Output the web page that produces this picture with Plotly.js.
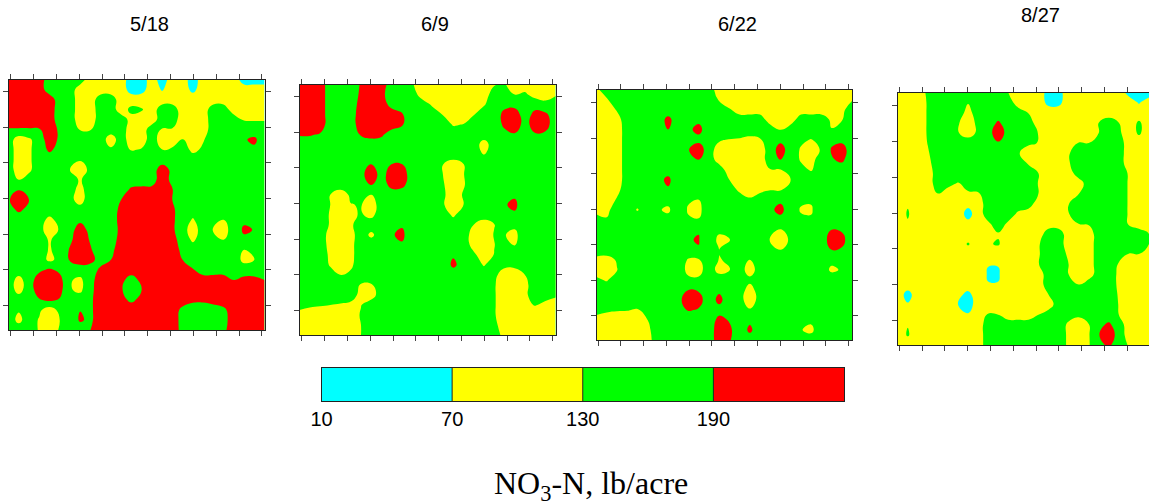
<!DOCTYPE html>
<html><head><meta charset="utf-8">
<script src="https://cdn.plot.ly/plotly-3.0.1.min.js"></script>
<style>html,body{margin:0;padding:0;background:#fff}#c{width:1149px;height:502px}</style></head>
<body><div id="c"></div>
<script>
const dates = ["5/18","6/9","6/22","8/27"];
const legendEdges = [10,70,130,190,250];
const legendValues = [40,100,160,220];
const legendTicks = [10,70,130,190];
const legendTitle = "NO<sub>3</sub>-N, lb/acre";

const no3_0518 = [
[220,220,220,220,160,160,160,160,100,100,100,100,40,40,100,40,100,100,40,100,100,100,100,40,40,40],
[220,220,220,220,160,160,160,100,100,100,100,100,45,50,100,65,100,100,55,100,100,100,100,100,100,100],
[220,220,220,220,220,160,160,100,100,160,160,100,100,100,100,100,100,100,100,100,100,100,100,100,100,100],
[220,220,220,220,220,160,160,100,100,160,160,100,145,135,100,160,160,100,100,100,160,160,100,100,100,100],
[220,220,220,220,220,160,160,100,100,160,160,160,110,100,100,160,160,100,100,100,160,160,160,125,125,125],
[185,185,185,185,220,180,160,128,128,160,160,160,100,100,160,125,125,100,100,100,160,160,160,160,160,160],
[160,100,120,160,220,180,160,160,160,160,100,160,100,100,160,100,100,135,100,125,160,160,160,185,200,160],
[160,100,120,160,200,170,160,160,160,160,140,160,125,135,160,128,140,160,115,140,160,160,160,175,180,160],
[160,100,120,160,160,160,160,135,160,160,160,160,160,160,160,160,160,160,160,160,160,160,160,160,160,160],
[160,100,120,160,160,160,130,100,145,160,160,160,160,160,160,220,175,160,160,160,160,160,160,160,160,160],
[160,130,150,160,160,160,150,125,155,160,160,160,160,160,165,220,175,160,160,160,160,160,160,160,160,160],
[160,188,165,160,160,160,155,110,165,160,160,160,200,205,205,220,192,160,160,160,160,160,160,160,160,160],
[185,220,190,160,160,160,150,100,175,160,160,190,220,220,220,220,190,160,160,160,160,160,160,160,160,160],
[170,200,175,160,160,160,160,160,160,160,160,205,220,220,220,220,200,160,160,160,160,160,160,160,160,160],
[160,160,160,155,115,150,160,175,160,160,160,210,220,220,220,220,200,160,125,160,150,130,160,180,170,160],
[160,160,160,150,100,135,165,220,170,160,160,205,220,220,220,220,200,155,100,160,128,105,160,198,188,160],
[160,160,160,155,125,150,180,220,185,160,165,210,220,220,220,220,210,165,120,160,150,130,160,180,170,160],
[160,160,160,160,125,150,195,220,195,160,175,220,220,220,220,220,220,175,160,160,160,160,160,130,150,160],
[160,160,160,160,118,145,195,220,205,170,190,220,220,220,220,220,220,190,160,160,160,160,160,115,128,160],
[160,160,160,178,200,178,160,160,165,200,220,220,220,220,220,220,220,220,195,160,160,160,160,160,160,160],
[160,110,160,220,220,210,135,118,170,220,220,205,165,205,220,220,220,220,220,220,220,220,190,205,205,190],
[160,110,160,220,220,210,135,118,175,220,220,195,160,190,220,220,220,220,220,220,220,220,220,220,220,220],
[160,160,160,185,200,185,160,160,180,220,220,205,180,205,220,220,220,220,200,200,210,220,220,220,220,220],
[160,135,160,140,100,145,160,189,180,220,220,220,220,220,220,220,220,175,165,160,165,178,220,220,220,220],
[160,115,160,125,100,130,160,196,180,220,220,220,220,220,220,220,220,170,160,160,160,170,220,220,220,220],
[160,160,160,125,100,135,160,165,190,220,220,220,220,220,220,220,220,172,160,160,160,178,220,220,220,220]
];
const no3_0609 = [
[220,220,220,160,160,160,195,220,220,160,160,135,100,100,100,100,100,100,100,125,135,100,100,100,100,100],
[220,220,220,160,160,160,200,220,205,160,160,160,100,100,100,100,100,100,100,160,160,130,140,105,100,125],
[220,220,220,160,160,160,210,220,220,170,160,160,160,120,100,100,100,100,125,160,175,175,160,170,150,160],
[220,220,220,160,160,160,220,220,220,220,195,160,160,160,128,100,100,128,160,160,205,215,165,205,200,160],
[220,220,220,160,160,160,220,220,220,220,195,160,160,160,160,125,132,160,160,160,200,220,170,215,210,160],
[195,195,185,160,160,160,195,210,200,160,160,160,160,160,160,160,160,160,160,160,175,185,160,185,180,160],
[160,160,160,160,160,160,160,160,160,160,160,160,160,160,160,160,160,160,105,160,160,160,160,160,160,160],
[160,160,160,160,160,160,160,160,160,160,160,160,160,160,160,160,160,160,130,160,160,160,160,160,160,160],
[160,160,160,160,160,160,160,193,160,192,192,160,160,160,130,100,128,160,160,160,160,160,160,160,160,160],
[160,160,160,160,160,160,175,220,170,215,215,165,160,160,130,100,128,160,160,160,160,160,160,160,160,160],
[160,160,160,160,160,160,160,192,160,210,205,160,160,160,135,100,125,160,160,160,160,160,160,160,160,160],
[160,160,160,130,100,140,160,130,160,160,160,160,160,160,140,100,135,160,160,160,160,183,160,160,160,160],
[160,160,160,130,100,128,133,100,160,160,160,160,160,160,135,100,130,160,160,160,186,200,160,160,160,160],
[160,160,160,125,100,120,135,115,160,160,160,160,160,160,160,120,160,160,160,160,160,183,160,160,160,160],
[160,160,160,125,100,120,160,160,160,160,185,160,160,160,160,160,160,130,100,128,160,140,160,160,160,160],
[160,160,160,110,100,110,160,118,160,186,200,160,160,160,160,160,160,105,100,133,132,118,160,160,160,160],
[160,160,160,112,100,115,160,160,160,160,185,160,160,160,160,160,160,110,100,128,160,128,160,160,160,160],
[160,160,160,120,100,115,160,160,160,160,160,160,160,160,160,185,160,140,100,132,160,160,160,160,160,160],
[160,160,160,125,100,120,160,160,160,160,160,160,160,160,160,200,170,160,125,160,145,145,160,160,160,160],
[160,160,160,150,128,140,160,160,160,160,160,160,160,160,160,165,160,160,160,145,100,100,130,160,160,160],
[160,160,160,160,160,160,125,125,160,160,160,160,160,160,160,160,160,160,160,135,100,100,115,160,160,160],
[160,160,160,160,160,160,110,105,160,160,160,160,160,160,160,160,160,160,160,135,100,100,118,160,160,140],
[160,140,135,130,125,115,128,160,160,160,160,160,160,160,160,160,160,160,160,135,100,100,100,135,110,100],
[100,100,100,100,100,100,135,160,160,160,160,160,160,160,160,160,160,160,160,135,100,100,100,100,100,100],
[100,100,100,100,100,100,130,160,160,160,160,160,160,160,160,160,160,160,160,145,100,100,100,100,100,100],
[100,100,100,100,100,100,130,160,160,160,160,160,160,160,160,160,160,160,160,160,110,100,100,100,100,100]
];
const no3_0622 = [
[120,160,160,160,160,160,160,160,160,160,160,160,100,100,100,100,100,100,100,100,100,100,100,100,100,100],
[100,125,160,160,160,160,160,160,160,160,160,160,125,100,100,100,100,100,100,100,100,100,100,100,100,125],
[100,100,135,160,160,160,160,160,160,160,160,160,160,135,100,100,100,100,100,100,100,100,100,100,115,160],
[100,100,110,160,160,160,160,205,160,160,178,160,160,160,160,160,160,100,100,100,160,160,160,120,128,160],
[100,100,100,160,160,160,160,190,160,180,205,160,160,160,160,160,160,160,125,160,160,160,160,132,140,160],
[100,100,100,160,160,160,160,160,160,165,175,160,140,128,125,115,125,160,175,160,140,128,160,175,175,160],
[100,100,100,160,160,160,160,160,160,188,220,160,100,100,100,100,100,160,215,160,125,105,135,195,215,160],
[100,100,100,160,160,160,160,160,160,175,190,160,105,100,100,100,100,160,195,160,125,110,160,185,200,160],
[100,100,100,160,160,160,160,170,160,160,160,160,160,100,100,100,100,128,128,160,145,125,160,160,165,160],
[100,100,100,160,160,160,175,200,160,160,160,160,160,130,100,100,100,100,100,130,160,160,160,160,160,160],
[100,100,115,160,160,160,160,185,160,160,160,160,160,160,118,100,115,128,125,160,160,160,160,160,160,160],
[100,100,135,160,160,160,160,145,160,135,130,160,160,160,160,138,160,160,180,160,140,135,160,160,160,160],
[105,115,160,160,126,160,135,122,160,125,118,160,160,160,160,160,160,180,205,160,125,125,160,160,160,160],
[160,135,160,160,160,160,160,145,160,135,132,160,160,160,160,160,160,160,175,160,140,135,160,160,160,160],
[160,160,160,160,160,160,160,160,160,160,188,160,140,160,160,160,160,160,128,160,160,160,160,190,185,160],
[160,160,160,160,160,160,160,160,160,188,192,160,118,128,160,160,160,128,100,140,160,160,160,215,205,160],
[160,160,160,160,160,160,160,160,160,160,188,160,130,160,160,160,160,160,130,160,160,160,160,190,185,160],
[115,110,135,160,160,160,160,160,160,125,125,160,128,135,160,128,160,160,160,160,160,160,160,145,160,160],
[105,100,128,160,160,160,160,160,160,115,110,160,110,128,160,100,160,160,160,160,160,160,160,120,135,160],
[140,125,160,160,160,160,160,160,160,140,140,160,160,160,160,145,160,160,160,160,160,160,160,160,160,160],
[160,160,160,160,160,160,160,160,160,190,185,160,180,160,160,105,160,160,160,160,160,160,160,160,160,160],
[160,160,160,160,160,160,160,160,175,220,210,160,205,160,150,100,150,160,160,160,160,160,160,160,160,160],
[160,140,135,133,125,160,160,160,160,195,185,160,170,160,160,135,160,160,160,160,160,160,160,160,160,160],
[100,100,100,100,100,130,160,160,160,160,160,160,205,186,160,180,160,160,160,160,160,138,160,160,160,160],
[100,100,100,100,100,118,160,160,160,160,160,160,220,200,160,200,160,160,160,160,132,120,160,160,160,160],
[100,100,100,100,100,110,160,160,160,160,160,160,220,195,160,165,160,160,160,160,160,150,160,160,160,160]
];
const no3_0827 = [
[100,100,100,140,160,160,160,160,160,160,160,130,100,100,100,50,50,100,100,100,100,100,100,50,40,40],
[100,100,100,135,160,160,160,133,160,160,160,160,100,100,100,55,55,100,100,100,100,100,100,100,65,100],
[100,100,100,135,160,160,160,110,160,160,160,160,160,128,100,100,100,100,100,100,100,100,100,100,100,100],
[100,100,100,135,160,160,135,100,145,160,198,160,160,160,100,100,100,100,100,100,130,160,130,100,138,100],
[100,100,100,135,160,160,133,105,140,170,220,170,160,160,128,100,100,100,100,100,130,160,140,100,138,100],
[100,100,100,132,160,160,160,160,160,160,185,160,160,140,128,100,100,100,132,130,160,160,160,100,100,100],
[100,100,100,125,160,160,160,160,160,160,160,160,135,100,100,100,100,125,160,160,160,160,160,100,100,100],
[100,100,100,115,160,160,160,160,160,160,160,160,160,125,110,100,100,125,160,160,160,160,160,100,100,100],
[100,100,100,100,160,160,160,160,160,160,160,160,160,160,130,100,100,100,160,160,160,160,160,125,100,100],
[100,100,100,100,160,150,125,160,160,160,160,160,160,160,128,100,100,100,100,160,160,160,160,125,100,100],
[100,100,100,100,130,100,100,120,125,160,160,160,160,160,130,100,100,100,128,160,160,160,160,125,100,100],
[100,125,100,100,100,100,100,85,100,160,160,160,160,160,100,100,100,128,160,160,160,160,160,125,100,100],
[100,135,100,100,100,100,100,50,100,160,160,160,120,100,100,100,100,128,160,160,160,160,160,125,100,100],
[100,125,100,100,100,100,100,85,100,120,160,120,100,100,100,100,100,100,130,135,160,160,160,125,100,100],
[100,100,100,100,100,100,100,100,100,100,125,100,100,100,100,160,160,100,100,100,160,160,160,160,160,130],
[100,100,100,100,100,100,100,135,100,125,135,100,100,100,125,160,160,100,100,100,160,160,160,160,160,130],
[100,100,100,100,100,100,100,100,100,100,100,100,100,100,125,160,160,120,100,100,160,160,160,128,130,100],
[100,100,100,100,100,100,100,100,100,72,72,100,100,100,128,160,160,130,100,100,160,160,125,100,100,100],
[100,100,100,100,100,100,100,100,100,65,65,100,100,100,100,160,160,130,100,100,160,160,120,100,100,100],
[100,100,100,100,100,100,100,100,100,72,72,100,100,100,100,160,160,160,130,160,160,160,120,100,100,100],
[100,50,100,100,100,100,85,55,100,100,100,100,100,100,100,130,160,160,160,160,160,160,125,100,100,100],
[100,75,100,100,100,100,70,42,100,100,100,100,100,100,100,100,160,160,160,160,160,160,128,100,100,100],
[100,100,100,100,100,100,90,75,100,135,130,100,100,100,130,160,160,150,140,150,160,160,130,100,100,100],
[100,128,100,100,100,100,100,100,100,160,160,160,160,160,160,160,160,120,100,128,175,200,160,100,100,100],
[100,135,100,100,100,100,100,100,100,160,160,160,160,160,160,160,160,120,100,125,188,220,170,100,100,100],
[100,100,100,100,100,100,100,100,100,160,160,160,160,160,160,160,160,120,100,125,175,200,160,125,100,100]
];
const grids = [no3_0518,no3_0609,no3_0622,no3_0827];

const W=1149,H=502;
const boxes=[
 {x0:8.5,x1:264.5,y0:79.5,y1:330,tx:.23,dx:2.228,ty:1.23,dy:3.55},
 {x0:299.5,x1:555.7,y0:84.5,y1:335,tx:.23,dx:2.225,ty:1.23,dy:3.55},
 {x0:596.5,x1:852,y0:89.5,y1:340,tx:.16,dx:2.228,ty:1.3,dy:3.55},
 {x0:897.7,x1:1149,y0:92.5,y1:345,tx:.17,dx:2.265,ty:1.29,dy:3.55}
];
const titlePos=[[149,24],[435,24],[737,24],[1040,15]];
const cs=[[0,'#00ffff'],[.25,'#00ffff'],[.25,'#ffff00'],[.5,'#ffff00'],[.5,'#00ff00'],[.75,'#00ff00'],[.75,'#ff0000'],[1,'#ff0000']];
const font='"Liberation Sans",Arial,sans-serif';
const layout={width:W,height:H,margin:{l:0,r:0,t:0,b:0},paper_bgcolor:'#fff',plot_bgcolor:'#fff',showlegend:false,annotations:[],shapes:[]};
const data=[];
boxes.forEach((b,k)=>{
  const n=k+1, xa='xaxis'+(n===1?'':n), ya='yaxis'+(n===1?'':n);
  data.push({type:'contour',z:grids[k],xaxis:'x'+(n===1?'':n),yaxis:'y'+(n===1?'':n),
    autocontour:false,contours:{coloring:'fill',start:70,end:190,size:60,showlines:false},
    line:{width:0,smoothing:1.3},colorscale:cs,zmin:10,zmax:250,zauto:false,showscale:false,hoverinfo:'skip'});
  layout[xa]={domain:[b.x0/W,b.x1/W],range:[0,25],anchor:'y'+(n===1?'':n),showgrid:false,zeroline:false,showticklabels:false,
    ticks:'outside',ticklen:5,tickwidth:1,tickcolor:'#444',tick0:b.tx,dtick:b.dx,tickmode:'linear',
    showline:true,linecolor:'#222',linewidth:1,mirror:'allticks'};
  layout[ya]={domain:[1-b.y1/H,1-b.y0/H],range:[25,0],anchor:'x'+(n===1?'':n),showgrid:false,zeroline:false,showticklabels:false,
    ticks:'outside',ticklen:5,tickwidth:1,tickcolor:'#444',tick0:b.ty,dtick:b.dy,tickmode:'linear',
    showline:true,linecolor:'#222',linewidth:1,mirror:k===3?false:'allticks'};
  layout.annotations.push({text:dates[k],xref:'paper',yref:'paper',x:titlePos[k][0]/W,y:1-titlePos[k][1]/H,xanchor:'center',yanchor:'middle',showarrow:false,font:{family:font,size:20,color:'#000'}});
});
data.push({type:'heatmap',x:legendEdges,y:[0,1],z:[legendValues],xaxis:'x5',yaxis:'y5',colorscale:cs,zmin:10,zmax:250,zauto:false,showscale:false,hoverinfo:'skip'});
layout.xaxis5={domain:[321.5/W,844/W],range:[10,250],anchor:'y5',showgrid:false,zeroline:false,tickmode:'array',tickvals:legendTicks,ticktext:legendTicks.map(String),ticks:'',
  tickfont:{family:font,size:20,color:'#000'},showline:true,linecolor:'#222',linewidth:1,mirror:true};
layout.yaxis5={domain:[1-401/H,1-368/H],range:[0,1],anchor:'x5',showgrid:false,zeroline:false,showticklabels:false,ticks:'',showline:true,linecolor:'#222',linewidth:1,mirror:true};
legendTicks.slice(1).forEach(v=>layout.shapes.push({type:'line',xref:'x5',yref:'y5',x0:v,x1:v,y0:0,y1:1,line:{color:'#222',width:1}}));
layout.annotations.push({text:legendTitle,xref:'paper',yref:'paper',x:591/W,y:1-485/H,xanchor:'center',yanchor:'middle',showarrow:false,font:{family:'"Liberation Serif","Times New Roman",serif',size:32,color:'#000'}});
Plotly.newPlot('c',data,layout,{displayModeBar:false,staticPlot:true});
</script></body></html>
